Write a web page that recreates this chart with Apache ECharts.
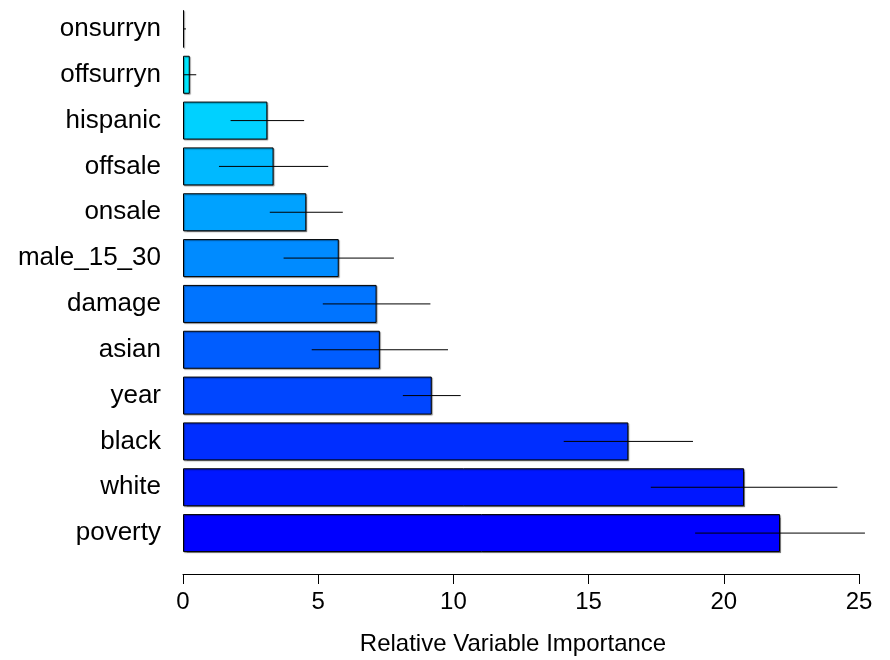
<!DOCTYPE html>
<html>
<head>
<meta charset="utf-8">
<script src="https://cdn.jsdelivr.net/npm/echarts@6/dist/echarts.min.js"></script>
<style>
  html, body { margin: 0; padding: 0; background: #ffffff; }
  #chart { width: 890px; height: 660px; }
</style>
</head>
<body>
<div id="chart"></div>
<script>
// Variables, listed top to bottom
const variables = ['onsurryn', 'offsurryn', 'hispanic', 'offsale', 'onsale', 'male_15_30',
                   'damage', 'asian', 'year', 'black', 'white', 'poverty'];
// Relative importance of each variable
const importance = [0.04, 0.25, 3.12, 3.35, 4.56, 5.76, 7.16, 7.28, 9.20, 16.47, 20.75, 22.08];
// Standard deviation of the importance, drawn as a horizontal line around the bar end
const importanceSd = [0.07, 0.24, 1.36, 2.02, 1.35, 2.04, 1.99, 2.52, 1.07, 2.39, 3.45, 3.14];
const axisTicks = [0, 5, 10, 15, 20, 25];

const FONT = 'Liberation Sans, Arial, Helvetica, sans-serif';
const n = variables.length;

// cyan (top) to blue (bottom)
function barColor(i) {
  const g = Math.round(255 * (n - 1 - i) / (n - 1));
  return 'rgb(0,' + g + ',255)';
}

const barData = importance.map((v, i) => ({
  value: v,
  itemStyle: { color: barColor(i) }
}));

const errData = importance.map((v, i) => [i, Math.max(0, v - importanceSd[i]), v + importanceSd[i]]);

const chart = echarts.init(document.getElementById('chart'), null, { renderer: 'canvas' });

chart.setOption({
  animation: false,
  backgroundColor: '#ffffff',
  grid: {
    left: 183, right: 31, top: 6, bottom: 104,
    containLabel: false,
    outerBoundsMode: 'none'
  },
  xAxis: {
    type: 'value',
    min: axisTicks[0],
    max: axisTicks[axisTicks.length - 1],
    interval: axisTicks[1] - axisTicks[0],
    offset: 18,
    position: 'bottom',
    name: 'Relative Variable Importance',
    nameLocation: 'middle',
    nameGap: 58,
    nameTextStyle: { fontFamily: FONT, fontSize: 24, color: '#000', padding: [0, 16, 0, 0] },
    axisLine: { show: true, lineStyle: { color: '#000', width: 1 } },
    axisTick: { show: true, length: 10, lineStyle: { color: '#000', width: 1 } },
    axisLabel: { fontFamily: FONT, fontSize: 24, color: '#000', margin: 16 },
    splitLine: { show: false }
  },
  yAxis: {
    type: 'category',
    data: variables,
    inverse: true,
    axisLine: { show: false },
    axisTick: { show: false },
    axisLabel: { fontFamily: FONT, fontSize: 26, color: '#000', margin: 22 }
  },
  series: [
    {
      type: 'bar',
      data: barData,
      barWidth: 38,
      itemStyle: {
        borderColor: '#000',
        borderWidth: 1,
        shadowColor: 'rgba(0,0,0,0.35)',
        shadowOffsetX: 1,
        shadowOffsetY: 1,
        shadowBlur: 1
      },
      z: 2
    },
    {
      type: 'custom',
      data: errData,
      renderItem: function (params, api) {
        const idx = api.value(0);
        const a = api.coord([api.value(1), idx]);
        const b = api.coord([api.value(2), idx]);
        return {
          type: 'line',
          shape: { x1: a[0], y1: a[1], x2: b[0], y2: b[1] },
          style: { stroke: '#000', lineWidth: 1 }
        };
      },
      encode: { x: [1, 2], y: 0 },
      z: 3
    }
  ]
});
</script>
</body>
</html>
